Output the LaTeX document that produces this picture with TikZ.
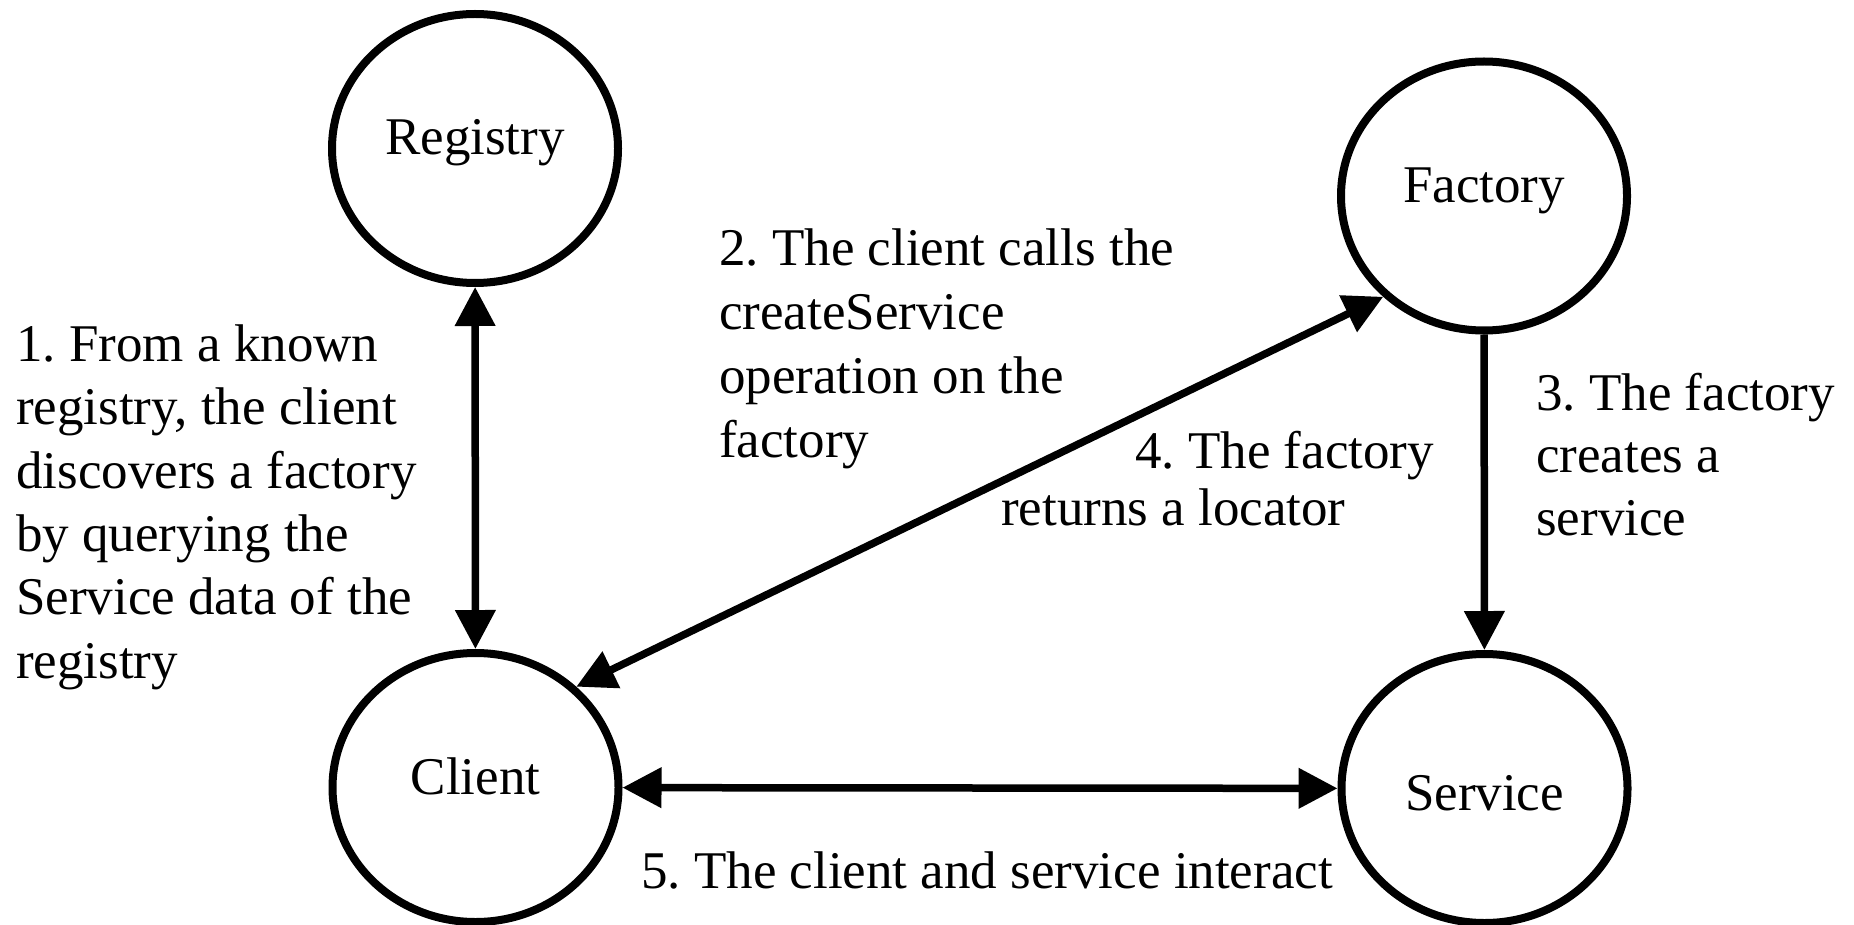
\documentclass[tikz,border=0pt]{standalone}
\usepackage{fontspec}
\setmainfont{Liberation Serif}
\usetikzlibrary{arrows.meta,shapes.geometric}
\frenchspacing
\begin{document}
\begin{tikzpicture}[x=1pt,y=-1pt,
  font=\fontsize{53pt}{63.3pt}\selectfont,
  state/.style={ellipse,draw,line width=8pt,minimum width=286pt,minimum height=269pt,inner sep=0pt,text height=36pt,text depth=23pt},
  lbl/.style={anchor=base west,align=left,inner sep=0pt},
  arr/.style={line width=7.5pt,arrows={-Triangle[length=39pt,width=39pt]}},
  biarr/.style={line width=7.5pt,arrows={Triangle[length=39pt,width=39pt]-Triangle[length=39pt,width=39pt]}}]
\useasboundingbox (0,0) rectangle (1854,925);
\node[state] (reg) at (475,148.5) {Registry};
\node[state] (fac) at (1484,196) {Factory};
\node[state] (cli) at (475.5,787.5) {Client};
\node[state,text height=44pt,text depth=0pt] (srv) at (1484.5,788.5) {Service};
\draw[biarr] (reg) -- (cli);
\draw[biarr] (cli.45) -- (fac.225);
\draw[arr] (fac) -- (srv);
\draw[biarr] (cli) -- (srv);
\node[lbl] (l1) at (16,678) {1. From a known\\registry, the client\\discovers a factory\\by querying the\\Service data of the\\registry};
\node[lbl,font=\fontsize{53pt}{64pt}\selectfont] (l2) at (719,457) {2. The client calls the\\createService\\operation on the\\factory};
\node[lbl,font=\fontsize{53pt}{62.5pt}\selectfont] (l3) at (1536,535) {3. The factory\\creates a\\service};
\node[lbl,font=\fontsize{53pt}{57pt}\selectfont] (l4) at (1001,525) {\hspace*{134pt}4. The factory\\returns a locator};
\node[lbl] (l5) at (641,888) {5. The client and service interact};
\end{tikzpicture}
\end{document}
